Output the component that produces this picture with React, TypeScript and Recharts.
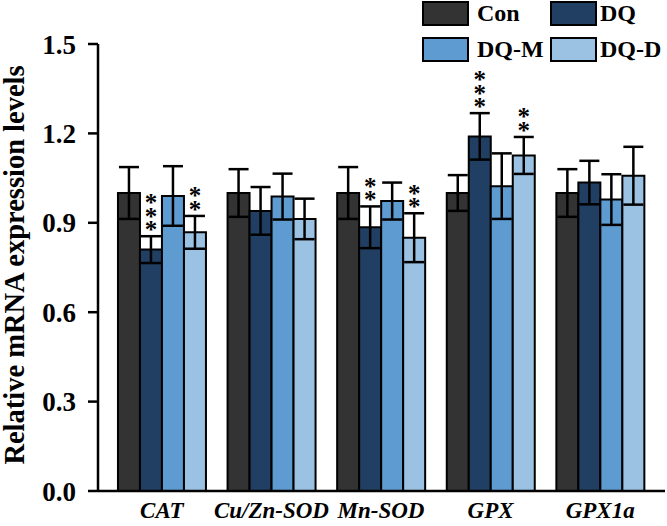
import React from 'react';
import { BarChart, Bar, XAxis, YAxis, ErrorBar, LabelList, Label } from 'recharts';

const categories = ['CAT', 'Cu/Zn-SOD', 'Mn-SOD', 'GPX', 'GPX1a'];
const con = [1.0, 1.0, 1.0, 1.0, 1.0];
const conErr = [0.087, 0.08, 0.087, 0.06, 0.08];
const dq = [0.81, 0.94, 0.885, 1.19, 1.035];
const dqErr = [0.045, 0.08, 0.07, 0.078, 0.073];
const dqm = [0.99, 0.988, 0.973, 1.023, 0.978];
const dqmErr = [0.1, 0.077, 0.062, 0.11, 0.085];
const dqd = [0.868, 0.913, 0.85, 1.126, 1.058];
const dqdErr = [0.055, 0.068, 0.082, 0.062, 0.097];
const dqStars = [3, 0, 2, 3, 0];
const dqdStars = [2, 0, 2, 2, 0];
const yTicks = [0, 0.3, 0.6, 0.9, 1.2, 1.5];

const seriesNames = ['Con', 'DQ', 'DQ-M', 'DQ-D'];
const colors = ['#333333', '#203f62', '#5e9bd0', '#9bc2e3'];

const data = categories.map((c, i) => ({
  name: c,
  con: con[i], conErr: conErr[i],
  dq: dq[i], dqErr: dqErr[i],
  dqm: dqm[i], dqmErr: dqmErr[i],
  dqd: dqd[i], dqdErr: dqdErr[i],
}));

const serif = '"Liberation Serif", "Times New Roman", serif';

const makeStars = (errArr: number[], starArr: number[]) => (props: any) => {
  const { x, y, width, height, value, index } = props;
  const n = starArr[index];
  if (!n) return null;
  const pxPerUnit = Number(height) / Number(value);
  const errTop = Number(y) - errArr[index] * pxPerUnit;
  const cx = Number(x) + Number(width) / 2;
  const topCy = errTop - 10 - (n - 1) * 13.5;
  const spans = [];
  for (let k = 0; k < n; k++) {
    spans.push(
      <tspan key={k} x={cx} dy={k === 0 ? 0 : 13.5}>*</tspan>
    );
  }
  return (
    <text x={cx} y={topCy + 12} textAnchor="middle" fontFamily={serif} fontWeight="bold" fontSize={25} fill="#000" stroke="none">{spans}</text>
  );
};

const LegendBlock = () => {
  const pos = [
    { sx: 422, sy: 1, tx: 477 },
    { sx: 550, sy: 1, tx: 600 },
    { sx: 422, sy: 37, tx: 477 },
    { sx: 550, sy: 37, tx: 600 },
  ];
  return (
    <div style={{ position: 'absolute', left: 0, top: 0, width: 667, height: 70, pointerEvents: 'none' }}>
      {seriesNames.map((n, i) => (
        <React.Fragment key={n}>
          <div style={{ position: 'absolute', left: pos[i].sx, top: pos[i].sy, width: 47, height: 25, boxSizing: 'border-box', border: '2.5px solid #000', background: colors[i] }} />
          <div style={{ position: 'absolute', left: pos[i].tx, top: pos[i].sy - 3, fontFamily: serif, fontWeight: 'bold', fontSize: 24, lineHeight: '30px', color: '#000', whiteSpace: 'nowrap' }}>{n}</div>
        </React.Fragment>
      ))}
    </div>
  );
};

const XTick = (props: any) => {
  const { x, y, payload } = props;
  return (
    <text x={x} y={Number(y) + 19} textAnchor="middle" fontFamily={serif} fontWeight="bold" fontStyle="italic" fontSize={23} fill="#000">{payload.value}</text>
  );
};

export default function App() {
  return (
    <div style={{ position: 'absolute', left: 0, top: 0, width: 667, height: 526, background: '#fff' }}>
      <BarChart width={667} height={526} data={data} margin={{ top: 44, right: 2, bottom: 0, left: 0 }} barGap={0} barCategoryGap="10%">
        <XAxis dataKey="name" height={35} tickLine={false} axisLine={{ stroke: '#000', strokeWidth: 2.5 }} padding={{ left: 9, right: 10 }} tick={<XTick />} interval={0} />
        <YAxis domain={[0, 1.5]} ticks={yTicks} width={98} tickSize={10} tickMargin={12} tickFormatter={(v: number) => v.toFixed(1)}
          axisLine={{ stroke: '#000', strokeWidth: 2.5 }} tickLine={{ stroke: '#000', strokeWidth: 2.5 }}
          tick={{ fill: '#000', fontFamily: serif, fontWeight: 'bold', fontSize: 27 }}>
          <Label content={() => (
            <text x={24} y={265} transform="rotate(-90 24 265)" textAnchor="middle" fontFamily={serif} fontWeight="bold" fontSize={28.5} fill="#000">Relative mRNA expression levels</text>
          )} />
        </YAxis>
        <Bar dataKey="con" name="Con" fill={colors[0]} stroke="#000" strokeWidth={2} isAnimationActive={false}>
          <ErrorBar dataKey="conErr" width={10} strokeWidth={2.5} stroke="#000" direction="y" />
        </Bar>
        <Bar dataKey="dq" name="DQ" fill={colors[1]} stroke="#000" strokeWidth={2} isAnimationActive={false}>
          <ErrorBar dataKey="dqErr" width={10} strokeWidth={2.5} stroke="#000" direction="y" />
          <LabelList dataKey="dq" content={makeStars(dqErr, dqStars)} />
        </Bar>
        <Bar dataKey="dqm" name="DQ-M" fill={colors[2]} stroke="#000" strokeWidth={2} isAnimationActive={false}>
          <ErrorBar dataKey="dqmErr" width={10} strokeWidth={2.5} stroke="#000" direction="y" />
        </Bar>
        <Bar dataKey="dqd" name="DQ-D" fill={colors[3]} stroke="#000" strokeWidth={2} isAnimationActive={false}>
          <ErrorBar dataKey="dqdErr" width={10} strokeWidth={2.5} stroke="#000" direction="y" />
          <LabelList dataKey="dqd" content={makeStars(dqdErr, dqdStars)} />
        </Bar>
      </BarChart>
      <LegendBlock />
    </div>
  );
}
